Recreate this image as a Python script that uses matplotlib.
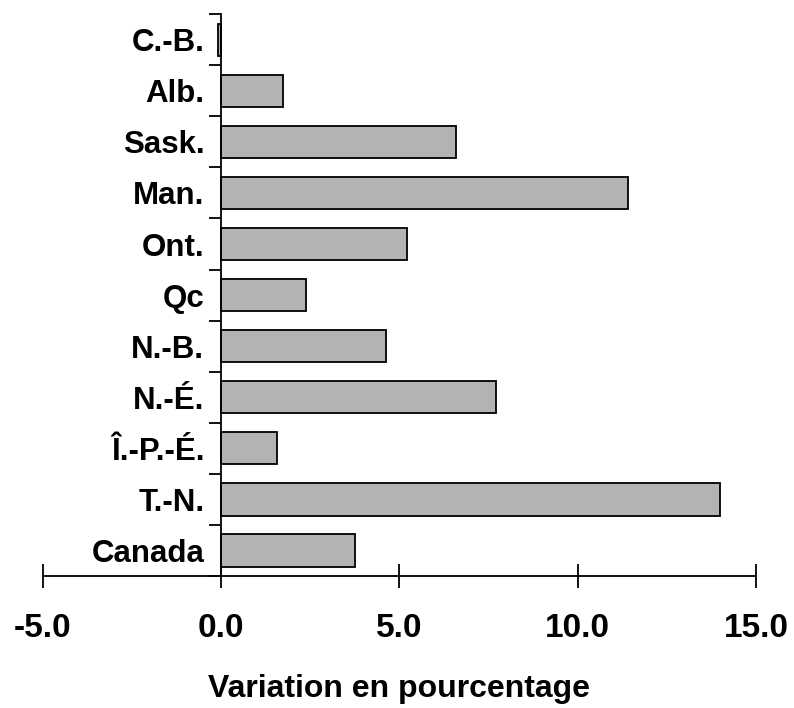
import numpy as np
import matplotlib
matplotlib.use("Agg")
import matplotlib.pyplot as plt

plt.rcParams['font.family'] = ['Liberation Sans', 'DejaVu Sans']
plt.rcParams['font.weight'] = 'bold'

provinces = ['Canada', 'T.-N.', 'Î.-P.-É.', 'N.-É.', 'N.-B.', 'Qc',
             'Ont.', 'Man.', 'Sask.', 'Alb.', 'C.-B.']
variation = [3.76, 14.0, 1.57, 7.72, 4.63, 2.39, 5.21, 11.41, 6.6, 1.74, -0.08]
xticks = [-5.0, 0.0, 5.0, 10.0, 15.0]

fig = plt.figure(figsize=(7.94, 7.08), dpi=100)
ax = fig.add_axes([0.0538, 0.1864, 0.8982, 0.7936])

pos = np.arange(len(provinces))
ax.barh(pos, variation, height=0.63, color='#b3b3b3', edgecolor='black', linewidth=1.3)

ax.set_xlim(-5, 15)
ax.set_ylim(-0.5, len(provinces) - 0.5)

for s in ['top', 'right']:
    ax.spines[s].set_visible(False)
ax.spines['left'].set_position(('data', 0))
ax.spines['left'].set_linewidth(1.3)
ax.spines['bottom'].set_linewidth(1.3)

ax.set_xticks(xticks)
ax.set_xticklabels(['%.1f' % v for v in xticks], fontsize=24, fontweight='bold')
ax.tick_params(axis='x', direction='inout', length=17, width=1.3, pad=18)

ax.set_yticks(np.arange(-0.5, len(provinces), 1.0))
ax.set_yticklabels([])
ax.tick_params(axis='y', which='major', direction='out', length=8.5, width=1.3)
ax.set_yticks(pos, minor=True)
ax.set_yticklabels(provinces, minor=True, fontsize=22.5, fontweight='bold')
ax.tick_params(axis='y', which='minor', length=0, pad=12)

ax.set_xlabel('Variation en pourcentage', fontsize=23, fontweight='bold', labelpad=22)

fig.savefig('out.png', dpi=100)
